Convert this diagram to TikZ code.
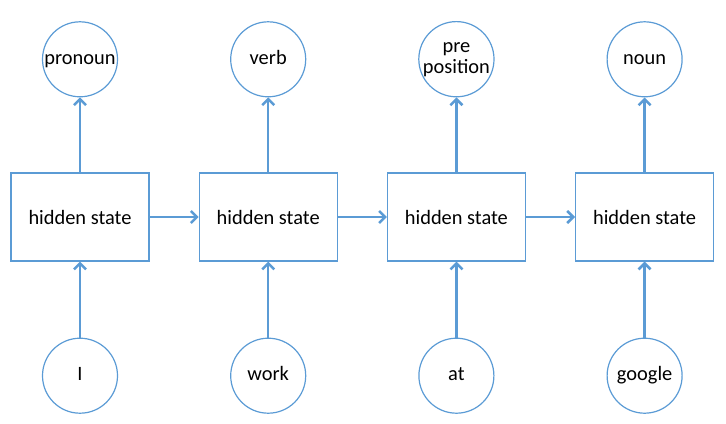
\documentclass[tikz,border=0pt]{standalone}
\usepackage{fontspec}
\setmainfont{Carlito}
\usetikzlibrary{arrows.meta, positioning}
\definecolor{rnnblue}{HTML}{5B9BD5}

\begin{document}
\begin{tikzpicture}[
  node distance=24.5pt,
  statebox/.style={rectangle, draw=rnnblue, line width=0.6pt, fill=white, minimum width=69pt, minimum height=44pt, font=\fontsize{10.2}{11}\selectfont},
  wordnode/.style={circle, draw=rnnblue, line width=0.6pt, minimum size=37.5pt, inner sep=0pt, align=center, text height=1ex, text depth=0pt, font=\fontsize{10.2}{10.5}\selectfont},
  flow/.style={-{Straight Barb[length=3pt, width=6pt]}, line width=1.25pt, rnnblue}
]
  \useasboundingbox (-40pt,-103pt) rectangle (323pt,108.5pt);

  % Hidden states
  \node[statebox] (h1) {hidden state};
  \node[statebox, right=of h1] (h2) {hidden state};
  \node[statebox, right=of h2] (h3) {hidden state};
  \node[statebox, right=of h3] (h4) {hidden state};

  % Outputs
  \node[wordnode, above=37.5pt of h1] (y1) {pronoun};
  \node[wordnode, above=37.5pt of h2] (y2) {verb};
  \node[wordnode, above=37.5pt of h3, text height=, text depth=] (y3) {pre\\position};
  \node[wordnode, above=37.5pt of h4] (y4) {noun};

  % Inputs
  \node[wordnode, below=38pt of h1] (x1) {I};
  \node[wordnode, below=38pt of h2] (x2) {work};
  \node[wordnode, below=38pt of h3] (x3) {at};
  \node[wordnode, below=38pt of h4] (x4) {google};

  % Arrows
  \foreach \i in {1,...,4} {
    \draw[flow] (x\i) -- (h\i);
    \draw[flow] (h\i) -- (y\i);
  }
  \draw[flow] (h1) -- (h2);
  \draw[flow] (h2) -- (h3);
  \draw[flow] (h3) -- (h4);
\end{tikzpicture}
\end{document}
